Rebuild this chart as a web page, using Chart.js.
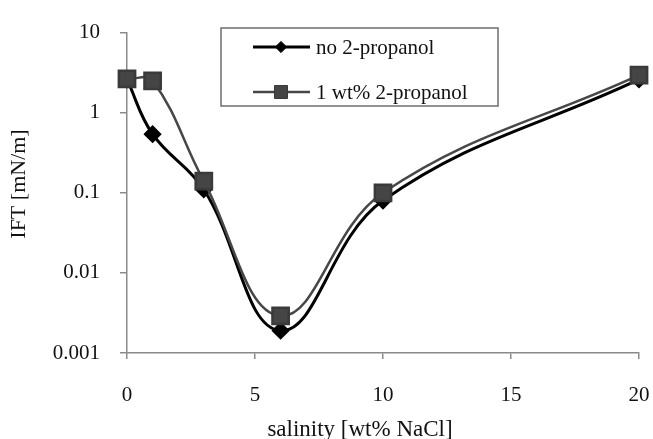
<!DOCTYPE html>
<html>
<head>
<meta charset="utf-8">
<script src="https://cdn.jsdelivr.net/npm/chart.js@4"></script>
<style>
  body { margin: 0; background: #fff; }
  #wrap { width: 653px; height: 439px; }
</style>
</head>
<body>
<div id="wrap"><canvas id="ift" width="653" height="439"></canvas></div>
<script>
// salinity in wt% NaCl
const salinity = [0, 1, 3, 6, 10, 20];
// IFT in mN/m
const iftNoAlcohol = [2.6, 0.54, 0.11, 0.0019, 0.08, 2.6];
const iftPropanol = [2.65, 2.5, 0.14, 0.0029, 0.1, 2.95];
const seriesNames = ['no 2-propanol', '1 wt% 2-propanol'];
const yTicks = [0.001, 0.01, 0.1, 1, 10];
const xTicks = [0, 5, 10, 15, 20];
const xTitle = 'salinity [wt% NaCl]';
const yTitle = 'IFT [mN/m]';

const serif = 'Liberation Serif, Times New Roman, serif';
const axisGray = '#8a8a8a';

function toPoints(xs, ys) {
  return xs.map((x, i) => ({ x: x, y: ys[i] }));
}

// boxed legend in the upper middle of the plot, plus both axis titles
const boxLegend = {
  id: 'boxLegend',
  afterDatasetsDraw(chart) {
    const ctx = chart.ctx;
    const x0 = 221, y0 = 28, w = 277, h = 78;
    ctx.save();
    ctx.fillStyle = '#fff';
    ctx.fillRect(x0, y0, w, h);
    ctx.strokeStyle = '#6e6e6e';
    ctx.lineWidth = 1.5;
    ctx.strokeRect(x0, y0, w, h);
    const rows = [47, 92];
    chart.data.datasets.forEach((ds, i) => {
      const y = rows[i];
      ctx.strokeStyle = ds.borderColor;
      ctx.lineWidth = ds.borderWidth;
      ctx.beginPath();
      ctx.moveTo(253, y);
      ctx.lineTo(310, y);
      ctx.stroke();
      ctx.fillStyle = ds.pointBackgroundColor;
      ctx.strokeStyle = ds.pointBorderColor;
      ctx.lineWidth = 1;
      Chart.helpers.drawPoint(ctx, {
        pointStyle: ds.pointStyle,
        radius: ds.pointRadius * 0.8,
        borderWidth: 1
      }, 281, y);
      ctx.fillStyle = '#111';
      ctx.font = '21px ' + serif;
      ctx.textBaseline = 'middle';
      ctx.fillText(ds.label, 316, y + 1);
    });

    // axis titles
    ctx.fillStyle = '#111';
    ctx.textAlign = 'center';
    ctx.textBaseline = 'alphabetic';
    ctx.font = '23px ' + serif;
    ctx.fillText(xTitle, 360, 436);
    ctx.translate(25, 184);
    ctx.rotate(-Math.PI / 2);
    ctx.font = '22px ' + serif;
    ctx.fillText(yTitle, 0, 0);
    ctx.restore();
  }
};

new Chart(document.getElementById('ift'), {
  type: 'line',
  data: {
    datasets: [
      {
        label: seriesNames[0],
        data: toPoints(salinity, iftNoAlcohol),
        borderColor: '#000',
        borderWidth: 3,
        pointStyle: 'rectRot',
        pointRadius: 7,
        pointBackgroundColor: '#000',
        pointBorderColor: '#000',
        tension: 0.4,
        clip: false,
        order: 1
      },
      {
        label: seriesNames[1],
        data: toPoints(salinity, iftPropanol),
        borderColor: '#474747',
        borderWidth: 2.5,
        pointStyle: 'rect',
        pointRadius: 11.5,
        pointBackgroundColor: '#454545',
        pointBorderColor: '#3a3a3a',
        tension: 0.4,
        clip: false,
        order: 0
      }
    ]
  },
  options: {
    responsive: false,
    animation: false,
    layout: { padding: { top: 21, right: 12, left: 0, bottom: 0 } },
    plugins: {
      legend: { display: false },
      tooltip: { enabled: false }
    },
    scales: {
      x: {
        type: 'linear',
        min: 0,
        max: 20,
        afterFit: (s) => {
          s.height = 86;
          s.paddingLeft = 0;
          s.paddingRight = 0;
        },
        afterBuildTicks: (s) => { s.ticks = xTicks.map(v => ({ value: v })); },
        ticks: {
          color: '#111',
          padding: 24,
          font: { family: serif, size: 21 }
        },
        grid: { drawOnChartArea: false, color: axisGray, tickLength: 6, lineWidth: 1.5 },
        border: { color: axisGray, width: 1.5 }
      },
      y: {
        type: 'logarithmic',
        min: 0.001,
        max: 10,
        afterFit: (s) => { s.width = 127; },
        afterBuildTicks: (s) => { s.ticks = yTicks.map(v => ({ value: v })); },
        ticks: {
          color: '#111',
          padding: 20,
          font: { family: serif, size: 21 },
          callback: (v) => String(v)
        },
        grid: { drawOnChartArea: false, color: axisGray, tickLength: 7, lineWidth: 1.5 },
        border: { color: axisGray, width: 1.5 }
      }
    }
  },
  plugins: [boxLegend]
});
</script>
</body>
</html>
